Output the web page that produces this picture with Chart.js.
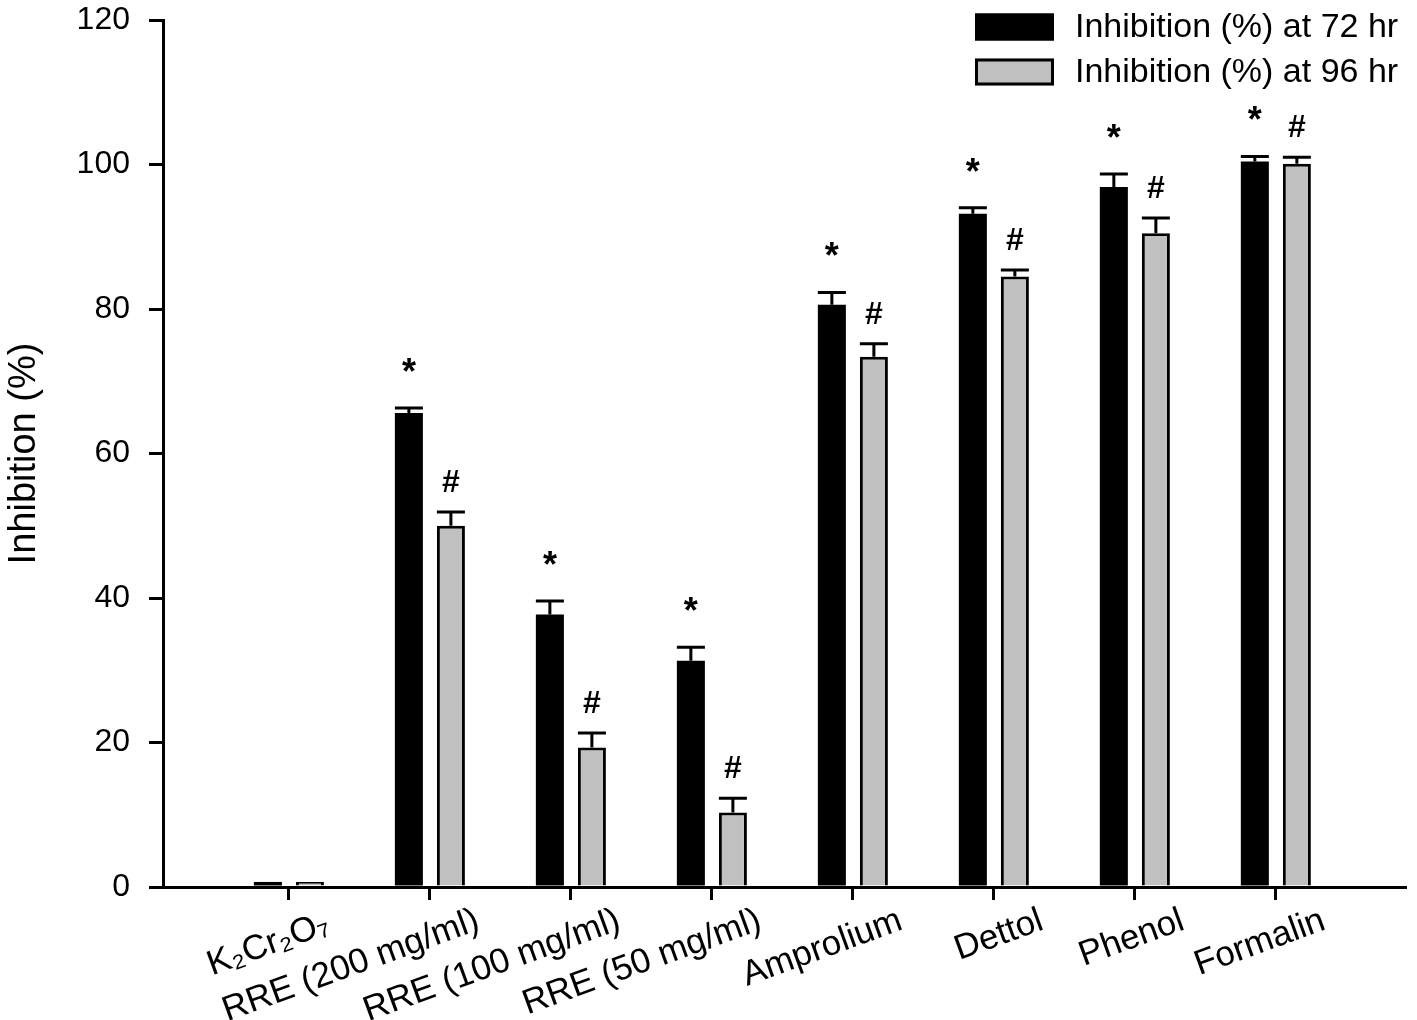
<!DOCTYPE html>
<html>
<head>
<meta charset="utf-8">
<title>Inhibition (%)</title>
<script src="https://cdn.jsdelivr.net/npm/chart.js@4.4.1/dist/chart.umd.min.js"></script>
<style>
  html, body { margin: 0; padding: 0; background: #fff; }
  canvas { display: block; }
</style>
</head>
<body>
<canvas id="inhibitionChart" width="1417" height="1020"></canvas>
<script>
// 处理组（x 轴）
const categories = ['K₂Cr₂O₇', 'RRE (200 mg/ml)', 'RRE (100 mg/ml)', 'RRE (50 mg/ml)', 'Amprolium', 'Dettol', 'Phenol', 'Formalin'];

// 抑制率 (%)
const inhib72 = [0.7, 65.6, 37.7, 31.3, 80.6, 93.2, 96.9, 100.4];
const inhib96 = [0.7, 50.0, 19.3, 10.3, 73.4, 84.5, 90.5, 100.1];

// 误差（向上）
const err72 = [0, 0.7, 1.9, 1.9, 1.7, 0.8, 1.8, 0.7];
const err96 = [0, 1.9, 2.0, 2.0, 1.8, 0.9, 2.1, 0.9];

// 显著性标记
const mark72 = ['', '*', '*', '*', '*', '*', '*', '*'];
const mark96 = ['', '#', '#', '#', '#', '#', '#', '#'];

// y 轴刻度
const yTicks = [0, 20, 40, 60, 80, 100, 120];

const FONT = "'Liberation Sans', Arial, sans-serif";

// 误差线 + 标记
const errorBarPlugin = {
    id: 'errorBars',
    afterDatasetsDraw(chart) {
        const ctx = chart.ctx;
        const yScale = chart.scales.y;
        chart.data.datasets.forEach((ds, di) => {
            const meta = chart.getDatasetMeta(di);
            meta.data.forEach((bar, i) => {
                const v = ds.data[i].y;
                const top = yScale.getPixelForValue(v + ds.errors[i]);
                const half = bar.width / 2;
                ctx.save();
                ctx.strokeStyle = '#000';
                ctx.lineWidth = 3;
                if (ds.errors[i] > 0) {
                    ctx.beginPath();
                    ctx.moveTo(bar.x, bar.y);
                    ctx.lineTo(bar.x, top);
                    ctx.moveTo(bar.x - half, top);
                    ctx.lineTo(bar.x + half, top);
                    ctx.stroke();
                }
                const m = ds.marks[i];
                if (m) {
                    ctx.fillStyle = '#000';
                    ctx.textAlign = 'center';
                    ctx.textBaseline = 'middle';
                    if (m === '*') {
                        ctx.font = 'bold 36px ' + FONT;
                        ctx.fillText(m, bar.x, top - 34);
                    } else {
                        ctx.font = 'bold 32px ' + FONT;
                        ctx.fillText(m, bar.x, top - 29);
                    }
                }
                ctx.restore();
            });
        });
    }
};

// 右上角图例（画在绘图区内）
const insideLegend = {
    id: 'insideLegend',
    afterDraw(chart) {
        const ctx = chart.ctx;
        const right = chart.chartArea.right;
        const boxX = right - 430, boxW = 79, boxH = 27;
        ctx.save();
        ctx.font = '34px ' + FONT;
        ctx.textBaseline = 'middle';
        ctx.textAlign = 'left';
        chart.data.datasets.forEach((ds, i) => {
            const cy = 27 + i * 45;
            ctx.fillStyle = ds.backgroundColor;
            ctx.fillRect(boxX, cy - boxH / 2, boxW, boxH);
            ctx.strokeStyle = '#000';
            ctx.lineWidth = 3;
            ctx.strokeRect(boxX + 1.5, cy - boxH / 2 + 1.5, boxW - 3, boxH - 3);
            ctx.fillStyle = '#000';
            ctx.fillText(ds.label, boxX + 100, cy + 1);
        });
        ctx.restore();
    }
};

const ctx = document.getElementById('inhibitionChart').getContext('2d');
const chart = new Chart(ctx, {
    type: 'bar',
    data: {
        datasets: [{
            label: 'Inhibition (%) at 72 hr',
            data: inhib72.map((v, i) => ({ x: i, y: v })),
            errors: err72,
            marks: mark72,
            backgroundColor: '#000000',
            borderColor: '#000000',
            borderWidth: 0
        }, {
            label: 'Inhibition (%) at 96 hr',
            data: inhib96.map((v, i) => ({ x: i, y: v })),
            errors: err96,
            marks: mark96,
            backgroundColor: '#c0c0c0',
            borderColor: '#000000',
            borderWidth: 3
        }]
    },
    options: {
        responsive: false,
        animation: false,
        categoryPercentage: 0.596,
        barPercentage: 0.667,
        layout: { padding: { left: 0, top: 20, right: 12, bottom: 0 } },
        plugins: {
            legend: { display: false },
            tooltip: { enabled: false }
        },
        scales: {
            x: {
                type: 'linear',
                offset: false,
                min: -0.893,
                max: 7.916,
                afterBuildTicks: (scale) => {
                    scale.ticks = categories.map((c, i) => ({ value: i }));
                },
                afterFit: (scale) => {
                    scale.height = 133;
                    scale.paddingLeft = 0;
                    scale.paddingRight = 0;
                },
                grid: { offset: false, drawOnChartArea: false, drawTicks: true, tickLength: 13, color: '#000', lineWidth: 3 },
                border: { display: true, color: '#000', width: 3 },
                ticks: {
                    autoSkip: false,
                    minRotation: 20,
                    maxRotation: 20,
                    labelOffset: 48,
                    padding: 0,
                    color: '#000',
                    font: { family: FONT, size: 35 },
                    // 第一个标签略微左下移
                    callback: (v) => v === 0 ? categories[v] + ' ' : categories[v]
                }
            },
            y: {
                min: 0,
                max: 120,
                afterBuildTicks: (scale) => {
                    scale.ticks = yTicks.map(v => ({ value: v }));
                },
                afterFit: (scale) => {
                    scale.width = 163;
                    scale.paddingTop = 0;
                    scale.paddingBottom = 0;
                },
                grid: { drawOnChartArea: false, drawTicks: true, tickLength: 14, color: '#000', lineWidth: 3 },
                border: { display: true, color: '#000', width: 3 },
                ticks: {
                    padding: 19,
                    color: '#000',
                    font: { family: FONT, size: 32 }
                },
                title: {
                    display: true,
                    text: 'Inhibition (%)',
                    color: '#000',
                    padding: { top: 2, bottom: 0 },
                    font: { family: FONT, size: 38 }
                }
            }
        }
    },
    plugins: [errorBarPlugin, insideLegend]
});
</script>
</body>
</html>
